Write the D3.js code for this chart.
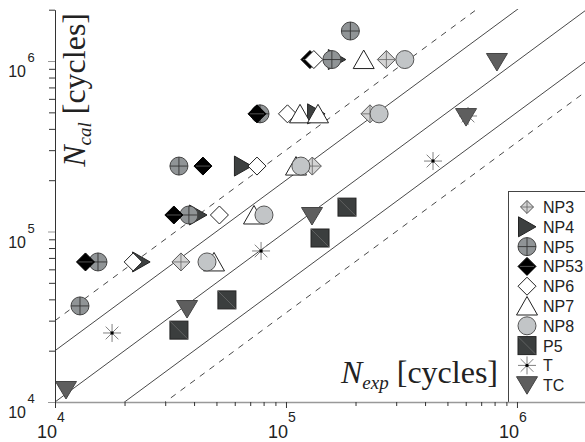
<!DOCTYPE html>
<html>
<head>
<meta charset="utf-8">
<script src="https://cdn.jsdelivr.net/npm/d3@7"></script>
<style>
  body { margin: 0; background: #fff; }
</style>
</head>
<body>
<div id="chart"></div>
<script>
// Series names in legend / drawing order
const seriesNames = ["NP3", "NP4", "NP5", "NP53", "NP6", "NP7", "NP8", "P5", "T", "TC"];

// [N_exp, N_cal] pairs
const np3  = [[2.72e5, 1.02e6], [2.31e5, 4.9e5], [1.3e5, 2.42e5], [3.51e4, 6.63e4]];
const np4  = [[1.66e5, 1.02e6], [1.35e5, 4.9e5], [6.51e4, 2.42e5], [4.16e4, 1.25e5], [2.36e4, 6.63e4]];
const np5  = [[1.9e5, 1.5e6], [1.58e5, 1.02e6], [7.72e4, 4.9e5], [3.44e4, 2.42e5], [3.8e4, 1.25e5], [1.535e4, 6.63e4], [1.283e4, 3.66e4]];
const np53 = [[1.27e5, 1.02e6], [7.49e4, 4.9e5], [4.37e4, 2.42e5], [3.27e4, 1.25e5], [1.355e4, 6.63e4]];
const np6  = [[1.32e5, 1.02e6], [1.015e5, 4.9e5], [7.49e4, 2.42e5], [5.15e4, 1.25e5], [2.18e4, 6.63e4]];
const np7  = [[2.17e5, 1.02e6], [1.15e5, 4.9e5], [1.376e5, 4.9e5], [1.105e5, 2.42e5], [7.27e4, 1.25e5], [4.88e4, 6.63e4]];
const np8  = [[3.27e5, 1.02e6], [2.53e5, 4.9e5], [1.16e5, 2.42e5], [8.03e4, 1.25e5], [4.55e4, 6.63e4]];
const p5   = [[3.44e4, 2.64e4], [5.55e4, 3.97e4], [1.404e5, 9.16e4], [1.837e5, 1.39e5]];
const t    = [[1.766e4, 2.54e4], [7.8e4, 7.69e4], [4.33e5, 2.59e5], [6.14e5, 4.76e5]];
const tc   = [[1.116e4, 1.176e4], [3.73e4, 3.51e4], [1.296e5, 1.233e5], [6.02e5, 4.69e5], [8.19e5, 9.87e5]];

const seriesData = [np3, np4, np5, np53, np6, np7, np8, p5, t, tc];

// Scatter-band lines N_cal = factor * N_exp
const bandFactors = [3, 2, 1, 0.5, 1 / 3];
const bandDashed  = [true, false, false, false, true];

// Decade ticks (exponents) and axis domain
const decadeExponents = [4, 5, 6];
const domain = [1e4, 2e6];

const width = 585, height = 442;

const svg = d3.select("#chart").append("svg")
    .attr("width", width)
    .attr("height", height)
    .style("font-family", "'Liberation Sans', Arial, sans-serif");

const x = d3.scaleLog().domain(domain).range([55, 586.5]);
const y = d3.scaleLog().domain(domain).range([402, 9.7]);

// clip for the band lines
svg.append("defs").append("clipPath").attr("id", "plot-clip")
    .append("rect")
    .attr("x", 55).attr("y", 9)
    .attr("width", width - 55).attr("height", 393);

// band lines
const line = d3.line().x(d => x(d[0])).y(d => y(d[1]));
svg.append("g")
    .attr("clip-path", "url(#plot-clip)")
    .selectAll("path")
    .data(bandFactors)
    .join("path")
    .attr("d", k => line([[domain[0], k * domain[0]], [domain[1], k * domain[1]]]))
    .attr("fill", "none")
    .attr("stroke", "#333")
    .attr("stroke-width", 0.9)
    .attr("stroke-dasharray", (k, i) => bandDashed[i] ? "6,6" : null);

// marker painter
function drawMarker(g, name, s = 1) {
    const h = 9 * s;
    const diamond = `M0,${-h}L${h},0L0,${h}L${-h},0Z`;
    switch (name) {
        case "NP3":
            g.append("path").attr("d", diamond).attr("fill", "#d4d4d4").attr("stroke", "#555");
            g.append("path").attr("d", `M0,${-h}V${h}M${-h},0H${h}`).attr("stroke", "#666").attr("stroke-width", 0.8);
            break;
        case "NP4":
            g.append("path").attr("d", `M${-8.5 * s},${-10 * s}L${9 * s},0L${-8.5 * s},${10 * s}Z`)
                .attr("fill", "#3d4040").attr("stroke", "#222");
            break;
        case "NP5":
            g.append("circle").attr("r", h).attr("fill", "#909496").attr("stroke", "#444");
            g.append("path").attr("d", `M0,${-h}V${h}M${-h},0H${h}`).attr("stroke", "#333").attr("stroke-width", 0.9);
            break;
        case "NP53":
            g.append("path").attr("d", diamond).attr("fill", "#000").attr("stroke", "#000");
            g.append("path").attr("d", `M${-h + 2},0H${h - 2}`).attr("stroke", "#888").attr("stroke-width", 0.6);
            break;
        case "NP6":
            g.append("path").attr("d", diamond).attr("fill", "#fff").attr("stroke", "#222");
            break;
        case "NP7":
            g.append("path").attr("d", `M0,${-9.5 * s}L${10.5 * s},${9 * s}L${-10.5 * s},${9 * s}Z`)
                .attr("fill", "#fff").attr("stroke", "#222");
            break;
        case "NP8":
            g.append("circle").attr("r", h).attr("fill", "#c2c5c7").attr("stroke", "#555");
            break;
        case "P5":
            g.append("rect").attr("x", -h).attr("y", -h).attr("width", 2 * h).attr("height", 2 * h)
                .attr("fill", "#3b3e3e").attr("stroke", "#222");
            g.append("path").attr("d", `M${-h},${-h}L${h},${h}`).attr("stroke", "#777").attr("stroke-width", 0.6);
            break;
        case "T":
            g.append("path")
                .attr("d", d3.range(8).map(i => {
                    const a = i * Math.PI / 4;
                    return `M0,0L${(h * Math.cos(a)).toFixed(2)},${(h * Math.sin(a)).toFixed(2)}`;
                }).join(""))
                .attr("stroke", "#808080").attr("stroke-width", 1);
            g.append("circle").attr("r", 1.7).attr("fill", "#000");
            break;
        case "TC":
            g.append("path").attr("d", `M${-10.5 * s},${-8.5 * s}L${10.5 * s},${-8.5 * s}L0,${9 * s}Z`)
                .attr("fill", "#5e5e5e").attr("stroke", "#444");
            break;
    }
}

// points, series by series
const pointsGroup = svg.append("g");
seriesNames.forEach((name, i) => {
    pointsGroup.append("g")
        .selectAll("g")
        .data(seriesData[i])
        .join("g")
        .attr("transform", d => `translate(${x(d[0])},${y(d[1])})`)
        .each(function () { drawMarker(d3.select(this), name); });
});

// legend
const legend = svg.append("g");
legend.append("rect")
    .attr("x", 508.5).attr("y", 191.5)
    .attr("width", 100).attr("height", 211)
    .attr("fill", "#fff")
    .attr("stroke", "#444");

const legendRows = legend.selectAll("g.row")
    .data(seriesNames)
    .join("g")
    .attr("class", "row")
    .attr("transform", (d, i) => `translate(0,${213 + i * 19.8})`);

legendRows.append("g")
    .attr("transform", "translate(527,-6)")
    .each(function (d) { drawMarker(d3.select(this), d, d === "NP3" ? 0.72 : 1); });

legendRows.append("text")
    .attr("x", 543)
    .attr("y", 0)
    .attr("font-size", 16)
    .attr("fill", "#222")
    .text(d => d);

// tick values: decades and 2..9 minors
const tickValues = [];
for (let e = 4; e <= 6; e++) {
    for (let m = 1; m <= 9; m++) {
        const v = m * Math.pow(10, e);
        if (v <= domain[1]) tickValues.push(v);
    }
}
const isMajor = v => decadeExponents.some(e => Math.abs(v - Math.pow(10, e)) < 1);

// x axis
const xAxis = svg.append("g")
    .attr("transform", "translate(0,402)")
    .call(d3.axisBottom(x).tickValues(tickValues).tickFormat("").tickSizeOuter(0));
xAxis.select(".domain").attr("stroke", "#999").attr("stroke-width", 1.5);
xAxis.selectAll(".tick line")
    .attr("y2", d => isMajor(d) ? 6 : 4)
    .attr("stroke", "#333");

// y axis
const yAxis = svg.append("g")
    .attr("transform", "translate(55,0)")
    .call(d3.axisLeft(y).tickValues(tickValues).tickFormat("").tickSizeOuter(0));
yAxis.select(".domain").attr("stroke", "#333").attr("stroke-width", 1);
yAxis.selectAll(".tick line")
    .attr("x2", d => isMajor(d) ? -7 : -6)
    .attr("stroke", d => isMajor(d) ? "#999" : "#333");

// decade labels 10^n
const xLabels = svg.append("g").attr("fill", "#222");
decadeExponents.forEach(e => {
    const px = x(Math.pow(10, e));
    xLabels.append("text").attr("x", px + 2).attr("y", 438)
        .attr("text-anchor", "end").attr("font-size", 18).text("10");
    xLabels.append("text").attr("x", px + 2).attr("y", 422)
        .attr("font-size", 14).text(e);
});

const yLabels = svg.append("g").attr("fill", "#222");
decadeExponents.forEach(e => {
    const py = y(Math.pow(10, e));
    yLabels.append("text").attr("x", 26).attr("y", py + 16)
        .attr("text-anchor", "end").attr("font-size", 16).text("10");
    yLabels.append("text").attr("x", 27.5).attr("y", py + 1)
        .attr("font-size", 13).text(e);
});

// axis titles (serif, italic N with subscript)
function axisTitle(sel, sub) {
    sel.attr("font-family", "'Liberation Serif', 'Times New Roman', serif")
        .attr("font-size", 32)
        .attr("fill", "#222")
        .attr("text-anchor", "end");
    sel.append("tspan").attr("font-style", "italic").text("N");
    sel.append("tspan").attr("font-style", "italic").attr("font-size", 19).attr("dy", 6).text(sub);
    sel.append("tspan").attr("dy", -6).text(" [cycles]");
}

svg.append("text")
    .attr("x", 498).attr("y", 383)
    .call(axisTitle, "exp");

svg.append("text")
    .attr("transform", "translate(85,13) rotate(-90)")
    .call(axisTitle, "cal");
</script>
</body>
</html>
